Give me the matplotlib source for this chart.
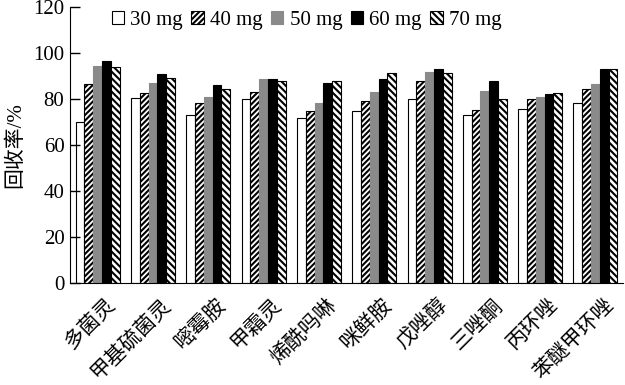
import numpy as np
import matplotlib
matplotlib.use('Agg')
import matplotlib.pyplot as plt
import matplotlib.transforms as mtransforms

plt.rcParams['font.family'] = ['Liberation Serif', 'Noto Sans CJK SC']
plt.rcParams['hatch.linewidth'] = 1.5

pesticides = ['多菌灵', '甲基硫菌灵', '嘧霉胺', '甲霜灵', '烯酰吗啉',
              '咪鲜胺', '戊唑醇', '三唑酮', '丙环唑', '苯醚甲环唑']
doses = ['30 mg', '40 mg', '50 mg', '60 mg', '70 mg']

rec_30 = [70, 80.6, 72.9, 79.9, 71.6, 74.9, 80.1, 73.2, 75.5, 78.1]
rec_40 = [86.5, 82.5, 78.4, 82.9, 74.6, 79.0, 87.7, 75.2, 79.9, 84.2]
rec_50 = [94.3, 86.8, 81.0, 88.6, 78.4, 83.0, 91.7, 83.3, 81.0, 86.4]
rec_60 = [96.4, 90.9, 85.9, 88.6, 86.8, 88.6, 93.2, 88.0, 82.2, 93.2]
rec_70 = [93.8, 89.1, 84.5, 88.0, 88.0, 91.4, 91.4, 80.1, 82.5, 93.2]

series = [rec_30, rec_40, rec_50, rec_60, rec_70]
faces = ['white', 'white', '#8a8a8a', 'black', 'white']
edges = ['black', 'black', '#8a8a8a', 'black', 'black']
hatches = [None, '//////', None, None, '\\\\\\\\\\']

fig = plt.figure(figsize=(6.25, 3.85), dpi=100)
ax = fig.add_axes([0.112, 0.265, 0.885, 0.717])

x = np.arange(len(pesticides))
w = 0.159
for i, vals in enumerate(series):
    ax.bar(x + (i - 2) * w, vals, w, color=faces[i], edgecolor=edges[i],
           linewidth=0.8, hatch=hatches[i], label=doses[i])

ax.set_xlim(-0.5, 9.5)
ax.set_ylim(0, 120)
ax.set_yticks(range(0, 121, 20))
ax.tick_params(axis='y', direction='in', length=7, width=1, labelsize=15, pad=4)
ax.set_xticks(x)
ax.set_xticklabels(pesticides, rotation=45, ha='right', rotation_mode='anchor',
                   fontsize=15)
ax.tick_params(axis='x', length=0, pad=9)
# nudge rotated labels a bit to the right
shift = mtransforms.ScaledTranslation(6 / 72, 0, fig.dpi_scale_trans)
for lbl in ax.get_xticklabels():
    lbl.set_transform(lbl.get_transform() + shift)
ax.spines['top'].set_visible(False)
ax.spines['right'].set_visible(False)
ax.set_ylabel('回收率/%', fontsize=15, labelpad=6)

ax.legend(ncol=5, frameon=False, loc='upper left', bbox_to_anchor=(0.06, 1.015),
          fontsize=15, handlelength=0.6, handleheight=0.6, handletextpad=0.3,
          columnspacing=0.4, borderaxespad=0)

fig.savefig('out.png', dpi=100)
